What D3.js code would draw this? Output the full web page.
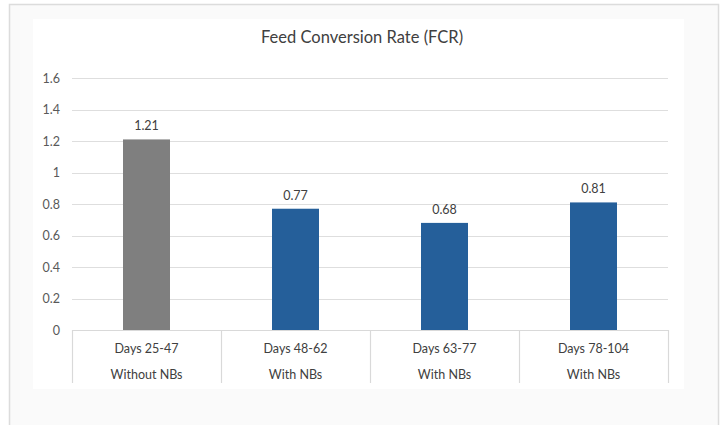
<!DOCTYPE html>
<html>
<head>
<meta charset="utf-8">
<script src="https://cdn.jsdelivr.net/npm/d3@7"></script>
<style>
  html, body { margin: 0; padding: 0; background: #ffffff; }
  svg { display: block; }
</style>
</head>
<body>
<svg id="chart" width="723" height="425"></svg>
<script>
// Feed conversion rate per rearing period
const periods = ["Days 25-47", "Days 48-62", "Days 63-77", "Days 78-104"];
const treatments = ["Without NBs", "With NBs", "With NBs", "With NBs"];
const fcrValues = [1.21, 0.77, 0.68, 0.81];
const yTicks = [0, 0.2, 0.4, 0.6, 0.8, 1, 1.2, 1.4, 1.6];
const titleText = "Feed Conversion Rate (FCR)";

const FONT = "Lato, 'Open Sans', sans-serif";
const svg = d3.select("#chart");

// page frame and chart area
svg.append("rect").attr("x", 9.5).attr("y", 4.5).attr("width", 709).attr("height", 430)
  .attr("fill", "#fafafa").attr("stroke", "#dcdcdc").attr("stroke-width", 1.5);
svg.append("rect").attr("x", 33).attr("y", 19).attr("width", 651).attr("height", 370)
  .attr("fill", "#ffffff");

const plot = { left: 72, right: 668, top: 78, bottom: 330 };

const x = d3.scaleBand().domain(d3.range(periods.length))
  .range([plot.left, plot.right]).paddingInner(0).paddingOuter(0);
const y = d3.scaleLinear().domain([0, 1.6]).range([plot.bottom, plot.top]);

// horizontal gridlines
svg.append("g").selectAll("line").data(yTicks.filter(d => d > 0)).join("line")
  .attr("x1", plot.left).attr("x2", plot.right)
  .attr("y1", d => Math.round(y(d)) + 0.5).attr("y2", d => Math.round(y(d)) + 0.5)
  .attr("stroke", "#dedede").attr("stroke-width", 1.2);

// y axis labels
const yAxis = d3.axisLeft(y).tickValues(yTicks).tickSize(0).tickPadding(0)
  .tickFormat(d => d3.format("")(d));
const yg = svg.append("g").attr("transform", `translate(${plot.left - 12},0)`).call(yAxis);
yg.select(".domain").remove();
yg.selectAll("text").attr("font-family", FONT).attr("font-size", 12.5).attr("fill", "#595959");

// bars
const barW = 47;
svg.append("g").selectAll("rect").data(fcrValues).join("rect")
  .attr("x", (d, i) => x(i) + x.bandwidth() / 2 - barW / 2)
  .attr("width", barW)
  .attr("y", d => y(d))
  .attr("height", d => y(0) - y(d))
  .attr("fill", (d, i) => i === 0 ? "#7f7f7f" : "#255f9a");

// value labels
svg.append("g").selectAll("text").data(fcrValues).join("text")
  .attr("x", (d, i) => x(i) + x.bandwidth() / 2)
  .attr("y", d => y(d) - 9)
  .attr("text-anchor", "middle")
  .attr("font-family", FONT).attr("font-size", 12.5).attr("fill", "#404040")
  .text(d => d3.format(".2f")(d));

// category axis with divider table
const xg = svg.append("g");
xg.append("line").attr("x1", plot.left).attr("x2", plot.right)
  .attr("y1", plot.bottom + 0.5).attr("y2", plot.bottom + 0.5)
  .attr("stroke", "#d9d9d9").attr("stroke-width", 1.2);
const edges = d3.range(periods.length + 1).map(i => i < periods.length ? x(i) : plot.right);
xg.selectAll("line.div").data(edges).join("line").attr("class", "div")
  .attr("x1", d => Math.round(d) + 0.5).attr("x2", d => Math.round(d) + 0.5)
  .attr("y1", plot.bottom).attr("y2", 383)
  .attr("stroke", "#d9d9d9").attr("stroke-width", 1.2);
xg.selectAll("text.period").data(periods).join("text").attr("class", "period")
  .attr("x", (d, i) => x(i) + x.bandwidth() / 2).attr("y", 352.5)
  .attr("text-anchor", "middle")
  .attr("font-family", FONT).attr("font-size", 12.5).attr("fill", "#404040")
  .text(d => d);
xg.selectAll("text.treat").data(treatments).join("text").attr("class", "treat")
  .attr("x", (d, i) => x(i) + x.bandwidth() / 2).attr("y", 378.5)
  .attr("text-anchor", "middle")
  .attr("font-family", FONT).attr("font-size", 12.5).attr("fill", "#404040")
  .text(d => d);

// title
svg.append("text").attr("x", 362).attr("y", 43)
  .attr("text-anchor", "middle")
  .attr("font-family", FONT).attr("font-size", 16.5).attr("fill", "#404040")
  .text(titleText);
</script>
</body>
</html>
